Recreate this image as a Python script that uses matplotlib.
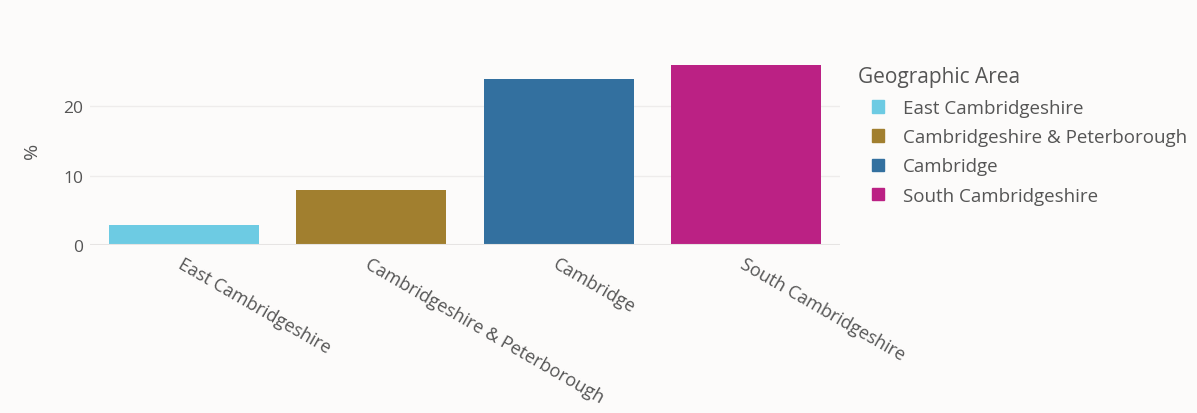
import matplotlib
matplotlib.use("Agg")
import matplotlib.pyplot as plt
from matplotlib.patches import Patch

# percentage by geographic area
areas = ["East Cambridgeshire", "Cambridgeshire & Peterborough", "Cambridge", "South Cambridgeshire"]
values = [2.9, 8.0, 24.0, 26.0]
colors = ["#6dcbe3", "#a17f2f", "#33709f", "#bb2184"]
yticks = [0, 10, 20]

plt.rcParams["font.family"] = ["Open Sans", "DejaVu Sans"]
txt = "#555555"
bg = "#fcfbfa"

fig = plt.figure(figsize=(11.97, 4.14), dpi=100)
fig.patch.set_facecolor(bg)
ax = fig.add_axes([90 / 1197, 168 / 414, 750 / 1197, 190 / 414])
ax.set_facecolor(bg)

x = range(len(areas))
ax.bar(x, values, width=0.8, color=colors, zorder=2)

ax.set_xlim(-0.5, 3.5)
ax.set_ylim(0, 27.4)
ax.set_yticks(yticks)
ax.set_yticklabels([str(t) for t in yticks], fontsize=12.5, color=txt)
ax.tick_params(axis="y", length=0, pad=5)
ax.tick_params(axis="x", length=0, pad=7)
ax.set_xticks(list(x))
ax.set_xticklabels(areas, rotation=-30, ha="left", va="top", rotation_mode="anchor",
                   fontsize=13, color=txt)
ax.grid(axis="y", color="#eeeceb", linewidth=1, zorder=0)
ax.axhline(0, color="#e6e4e3", linewidth=1.5, zorder=3)
for s in ax.spines.values():
    s.set_visible(False)
ax.set_ylabel("%", fontsize=14, color=txt, labelpad=16)

# legend title drawn on its own so the entries sit indented under it
fig.text(858 / 1197, 1 - 78 / 414, "Geographic Area", fontsize=15, color=txt,
         ha="left", va="center")
handles = [Patch(facecolor=c, edgecolor=c) for c in colors]
leg = fig.legend(handles, areas, loc="upper left",
                 bbox_to_anchor=(855 / 1197, 1 - 83 / 414), frameon=False,
                 fontsize=13.5, handlelength=0.65, handleheight=0.65,
                 handletextpad=1.0, labelspacing=0.6, labelcolor=txt)

fig.savefig("out.png", dpi=100, facecolor=bg)
